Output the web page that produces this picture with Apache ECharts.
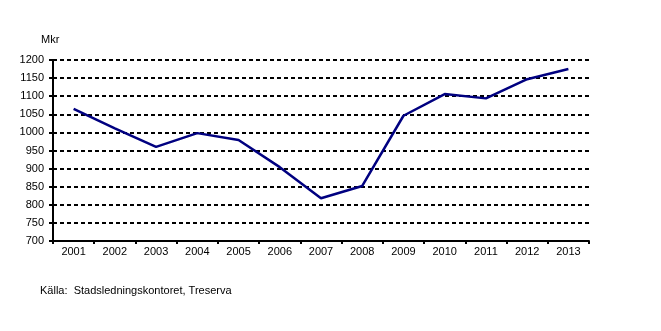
<!DOCTYPE html>
<html><head><meta charset="utf-8">
<script src="https://cdn.jsdelivr.net/npm/echarts@6/dist/echarts.min.js"></script>
<style>html,body{margin:0;padding:0;background:#fff}#c{width:661px;height:331px}</style>
</head><body><div id="c"></div>
<script>
var categories = ['2001','2002','2003','2004','2005','2006','2007','2008','2009','2010','2011','2012','2013'];
var values = [1065, 1011, 960, 998, 979, 904, 818, 852, 1046, 1106, 1094, 1147, 1175];
var yTicks = {min: 700, max: 1200, interval: 50};
var unitLabel = 'Mkr';
var sourceText = 'Källa:  Stadsledningskontoret, Treserva';

var chart = echarts.init(document.getElementById('c'));
var font = 'Liberation Sans, Arial, sans-serif';
chart.setOption({
  animation: false,
  grid: {left: 53, right: 72, top: 60, bottom: 90, containLabel: false},
  graphic: [
    {type: 'text', left: 41, top: 34, style: {text: unitLabel, font: '11px ' + font, fill: '#000'}},
    {type: 'text', left: 40, top: 285, style: {text: sourceText, font: '11px ' + font, fill: '#000'}}
  ],
  xAxis: {
    type: 'category', data: categories, boundaryGap: true,
    axisLine: {lineStyle: {color: '#000', width: 2}},
    axisTick: {show: true, length: 3, lineStyle: {color: '#000', width: 2}},
    axisLabel: {color: '#000', fontFamily: font, fontSize: 11, margin: 5},
    splitLine: {show: false}
  },
  yAxis: {
    type: 'value', min: yTicks.min, max: yTicks.max, interval: yTicks.interval,
    axisLine: {show: true, lineStyle: {color: '#000', width: 2}},
    axisTick: {show: true, length: 4, lineStyle: {color: '#000', width: 2}},
    axisLabel: {color: '#000', fontFamily: font, fontSize: 11, margin: 9,
      formatter: function (v) { return String(v); }},
    splitLine: {show: true, lineStyle: {color: '#000', width: 2, type: [4, 3]}}
  },
  series: [{
    type: 'line', data: values, symbol: 'none',
    lineStyle: {color: '#000080', width: 2.5}
  }]
});
</script></body></html>
